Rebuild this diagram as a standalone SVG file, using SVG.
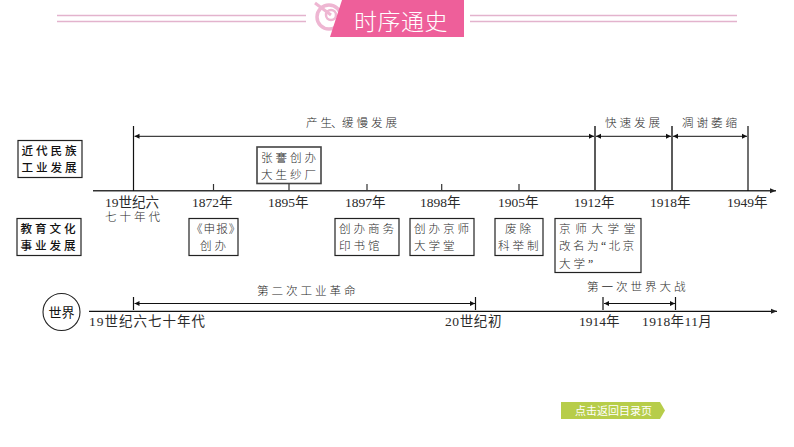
<svg xmlns="http://www.w3.org/2000/svg" width="794" height="447" viewBox="0 0 794 447">
<defs>
<style>
text{font-family:"Liberation Serif","Noto Sans CJK SC",serif;fill:#2a2a2a}
.t{font-size:11.6px;letter-spacing:2.9px;font-weight:300}
.y{font-size:13.5px}
.b{font-family:"Noto Sans CJK SC",sans-serif;font-size:11.6px;letter-spacing:2.9px;font-weight:500;fill:#111}
.box{fill:#fff;stroke:#222;stroke-width:1.2}
.l{stroke:#111;stroke-width:1.2;fill:none}
.ax{stroke:#333;stroke-width:1.4;fill:none}
.tk{stroke:#333;stroke-width:1.2}
.a{stroke:#111;stroke-width:1;fill:none;marker-start:url(#s);marker-end:url(#e)}
.hl{stroke:#e3b3cd;stroke-width:1.6;fill:none}
</style>
<marker id="e" markerUnits="userSpaceOnUse" markerWidth="6" markerHeight="6" refX="5" refY="3" orient="auto"><path d="M0,0.5L5,3L0,5.5z" fill="#111"/></marker>
<marker id="s" markerUnits="userSpaceOnUse" markerWidth="6" markerHeight="6" refX="0" refY="3" orient="auto"><path d="M5,0.5L0,3L5,5.5z" fill="#111"/></marker>
<marker id="big" markerUnits="userSpaceOnUse" markerWidth="7" markerHeight="6" refX="6" refY="3" orient="auto"><path d="M0,0.5L6,3L0,5.5z" fill="#222"/></marker>
</defs>
<rect width="794" height="447" fill="#fff"/>
<g id="header">
<path class="hl" d="M57,15.5H306M57,21.5H306M470,15.5H737M470,21.5H737"/>
<circle cx="329" cy="17" r="12" fill="none" stroke="#eeb6d2" stroke-width="3.5"/>
<circle cx="331" cy="15" r="5" fill="none" stroke="#eeb6d2" stroke-width="2.5"/>
<path d="M315,3L331,15" stroke="#eeb6d2" stroke-width="3" fill="none"/>
<path d="M342,0H464V37H330z" fill="#ee5f9a"/>
<text x="354" y="30" style="font-family:'Noto Sans CJK SC',sans-serif;font-size:23px;font-weight:300;letter-spacing:0.5px;fill:#fff">时序通史</text>
</g>
<g id="connectors">
<path class="ax" d="M93,190.7H776" marker-end="url(#big)"/>
<path class="tk" d="M213.5,184V191M289,184V191M367,184V191M441.7,184V191M519,184V191"/>
<path class="l" d="M133.5,126V191"/>
<path class="tk" d="M595,126V191M672,126V191" style="stroke-width:1.6"/>
<path class="l" d="M748,126V191"/>
<path class="a" d="M134.500,136.300H594"/>
<path class="a" d="M596,136.300H671"/>
<path class="a" d="M673,136.300H747"/>
<path class="l" d="M89,311.300H777" marker-end="url(#big)"/>
<path class="l" d="M133.500,297V310M475.500,297V310M603,297V310M675.500,297V310"/>
<path class="a" d="M134.500,303.500H475"/>
<path class="a" d="M604,303.500H675"/>
</g>
<g id="era-labels">
<text class="t" x="306" y="127">产生<tspan dx="-4">、</tspan><tspan x="342">缓慢发展</tspan></text>
<text class="t" x="605" y="127">快速发展</text>
<text class="t" x="682" y="127">凋谢萎缩</text>
</g>
<g id="node-modern-industry"><rect class="box" x="18" y="140.500" width="64" height="37"/><text class="b" x="21.500" y="155">近代民族</text><text class="b" x="21.500" y="172">工业发展</text></g>
<g id="node-education"><rect class="box" x="17" y="218.500" width="64" height="37"/><text class="b" x="20.500" y="233">教育文化</text><text class="b" x="20.500" y="250">事业发展</text></g>
<g id="node-zhangjian"><rect class="box" x="257" y="147" width="64" height="36.500" style="stroke:#444;stroke-width:1.6"/><text class="t" x="261" y="162">张謇创办</text><text class="t" x="261" y="179">大生纱厂</text></g>
<g id="node-shenbao"><rect class="box" x="189" y="218.500" width="49" height="37"/><text class="t" x="191" y="233" style="letter-spacing:1px">《申报》</text><text class="t" x="200" y="250">创办</text></g>
<g id="node-commercial"><rect class="box" x="335" y="218.500" width="64" height="37"/><text class="t" x="339" y="233">创办商务</text><text class="t" x="339" y="250">印书馆</text></g>
<g id="node-jingshi"><rect class="box" x="410" y="218.500" width="64" height="37"/><text class="t" x="414" y="233">创办京师</text><text class="t" x="414" y="250">大学堂</text></g>
<g id="node-keju"><rect class="box" x="495" y="218.500" width="48" height="37"/><text class="t" x="505" y="233">废除</text><text class="t" x="498" y="250">科举制</text></g>
<g id="node-pku"><rect class="box" x="555" y="218.500" width="86" height="54"/><text class="t" x="559" y="233" style="letter-spacing:4.600px">京师大学堂</text><text class="t" x="559" y="250" style="letter-spacing:2.400px">改名为“北京</text><text class="t" x="559" y="268">大学”</text></g>
<g id="axis-labels">
<text class="y" x="105" y="206.500">19世纪六</text>
<text class="t" x="105" y="221">七十年代</text>
<text class="y" x="192" y="206.500">1872年</text>
<text class="y" x="268" y="206.500">1895年</text>
<text class="y" x="345" y="206.500">1897年</text>
<text class="y" x="420" y="206.500">1898年</text>
<text class="y" x="498" y="206.500">1905年</text>
<text class="y" x="574" y="206.500">1912年</text>
<text class="y" x="650" y="206.500">1918年</text>
<text class="y" x="727" y="206.500">1949年</text>
</g>
<g id="node-world"><circle cx="61.500" cy="312" r="18.500" fill="#fff" stroke="#222" stroke-width="1.1"/><text x="61.500" y="317" text-anchor="middle" style="font-family:'Noto Sans CJK SC',sans-serif;font-size:13px;fill:#111">世界</text></g>
<g id="world-labels">
<text class="t" x="257" y="295">第二次工业革命</text>
<text class="t" x="587" y="291">第一次世界大战</text>
<text class="y" x="89" y="326" style="letter-spacing:1px">19世纪六七十年代</text>
<text class="y" x="445" y="326" style="letter-spacing:.6px">20世纪初</text>
<text class="y" x="579" y="326">1914年</text>
<text class="y" x="642" y="326" style="letter-spacing:.4px">1918年11月</text>
</g>
<g id="return-button">
<path d="M561,402H660L665,410.500L660,419H561z" fill="#b7cd4a"/>
<text x="575" y="415" style="font-family:'Noto Sans CJK SC',sans-serif;font-size:11px;fill:#fff">点击返回目录页</text>
</g>
</svg>
